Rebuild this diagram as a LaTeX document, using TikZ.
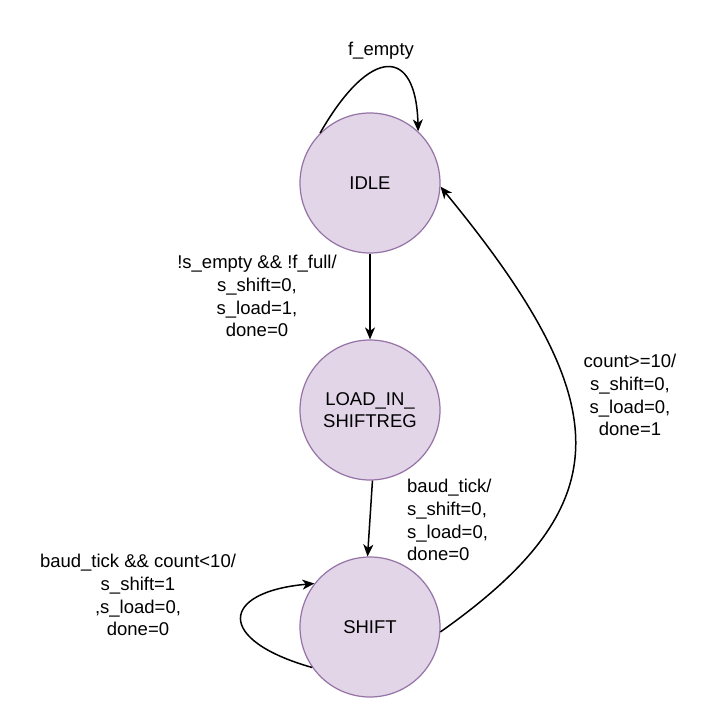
\documentclass[tikz,border=0pt]{standalone}
\usepackage{fontspec}
\setmainfont{Liberation Sans}
\usetikzlibrary{arrows.meta}
\definecolor{stfill}{HTML}{E1D5E7}
\definecolor{stdraw}{HTML}{9673A6}
\begin{document}
\begin{tikzpicture}[x=1pt,y=-1pt,
  state/.style={circle,draw=stdraw,fill=stfill,line width=1.2pt,minimum size=140pt,inner sep=0pt,align=center,font=\fontsize{18.5}{22}\selectfont},
  lbl/.style={inner sep=0pt,font=\fontsize{18.5}{22.8}\selectfont},
  conn/.style={line width=1.5pt,-{Stealth[length=12pt,width=10pt,inset=3.5pt]}}]
\useasboundingbox (0,0) rectangle (723,711);
\fill[white] (0,0) rectangle (723,711);
\node[state] (idle) at (370,183) {IDLE};
\node[state] (load) at (370,410) {LOAD\_IN\_\\SHIFTREG};
\node[state] (shift) at (370,627) {SHIFT};

\draw[conn] (idle.135) .. controls (370,46) and (416,46) .. (idle.47);
\draw[conn] (idle.south) -- (load.north);
\draw[conn] (load.-88) -- (shift.92);
\draw[conn] (shift.-4) .. controls (620,505) and (620,405) .. (idle.-3);
\draw[conn] (shift.215) .. controls (215,640) and (220,592) .. (shift.142);

\node[lbl] (l1) at (381,51) {f\_empty};
\node[lbl,align=center] (l2) at (257,296) {!s\_empty \&\& !f\_full/\\s\_shift=0,\\s\_load=1,\\done=0};
\node[lbl,align=left,anchor=west] (l3) at (407,520) {baud\_tick/\\s\_shift=0,\\s\_load=0,\\done=0};
\node[lbl,align=center] (l4) at (630,395) {count>=10/\\s\_shift=0,\\s\_load=0,\\done=1};
\node[lbl,align=center] (l5) at (138,595) {baud\_tick \&\& count<10/\\s\_shift=1\\,s\_load=0,\\done=0};
\end{tikzpicture}
\end{document}
